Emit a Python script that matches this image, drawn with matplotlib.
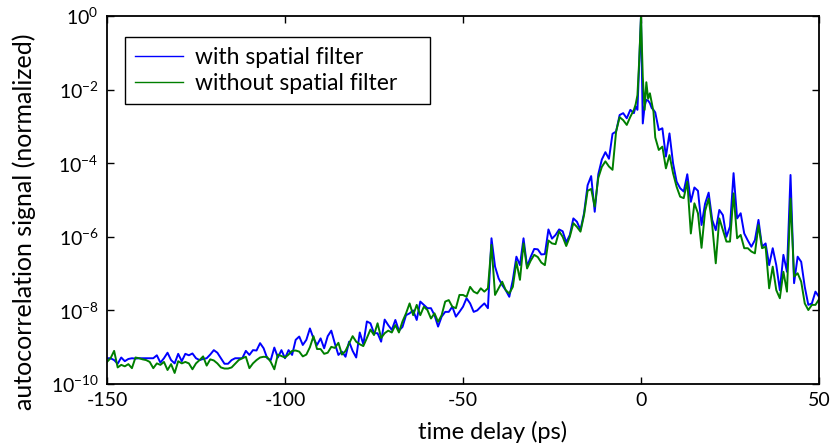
import matplotlib

matplotlib.use("Agg")
import matplotlib.pyplot as plt
import numpy as np

plt.rcParams["font.family"] = ["Lato", "DejaVu Sans"]
plt.rcParams["mathtext.fontset"] = "custom"
plt.rcParams["mathtext.rm"] = "Lato"
plt.rcParams["mathtext.default"] = "regular"
plt.rcParams["axes.unicode_minus"] = False

# time delay grid (ps): 1 ps steps, 0.5 ps around the peak
delay_coarse_left = list(range(-150, -2))
delay_fine = [-2.0, -1.5, -1.0, -0.5, 0.0, 0.5, 1.0, 1.5, 2.0, 2.5, 3.0, 3.5, 4.0]
delay_coarse_right = list(range(5, 51))
delay = np.array(delay_coarse_left + delay_fine + delay_coarse_right, dtype=float)

# log10 of the normalized autocorrelation signal
log_with_filter = [
    -9.30, -9.30, -9.35, -9.45, -9.28, -9.38, -9.32, -9.30, -9.31, -9.30,
    -9.30, -9.30, -9.30, -9.30, -9.22, -9.42, -9.30, -9.15, -9.35, -9.44,
    -9.18, -9.38, -9.18, -9.22, -9.17, -9.30, -9.35, -9.32, -9.30, -9.20,
    -9.08, -9.15, -9.30, -9.45, -9.45, -9.35, -9.30, -9.30, -9.30, -9.10,
    -9.21, -9.08, -9.09, -8.89, -9.03, -9.30, -9.35, -9.01, -9.28, -9.08,
    -9.30, -9.08, -9.21, -8.80, -8.71, -8.94, -8.80, -8.49, -8.76, -8.94,
    -8.76, -9.03, -8.70, -8.55, -8.90, -9.21, -9.12, -9.26, -8.85, -9.10,
    -9.28, -8.60, -8.92, -8.30, -8.35, -8.62, -8.62, -8.85, -8.25, -8.40,
    -8.53, -8.26, -8.55, -8.45, -8.13, -8.08, -8.00, -8.26, -7.76, -7.85,
    -7.94, -7.94, -8.13, -8.44, -8.17, -8.04, -8.04, -7.90, -8.17, -8.04,
    -7.90, -7.67, -7.81, -8.04, -8.00, -7.90, -7.81, -7.94, -6.04, -6.81,
    -7.13, -7.31, -7.45, -7.63, -7.17, -6.54, -6.77, -6.04, -6.81, -6.55,
    -6.33, -6.34, -6.48, -6.47, -5.80, -6.05, -5.95, -5.80, -5.85, -6.15,
    -5.95, -5.50, -5.59, -5.81, -5.36, -4.60, -4.35, -5.32, -4.30, -3.90,
    -3.70, -3.88, -3.20, -3.14, -2.69, -2.64, -2.78, -2.55,
    -2.64, -2.46, -2.55, -1.30, 0.00, -2.92, -2.46, -2.28, -2.30, -2.37, -2.50, -2.55, -2.62,
    -3.10, -3.05, -3.82, -3.19, -4.00, -4.50, -4.68, -4.77, -4.30, -5.05,
    -4.66, -4.75, -5.68, -5.10, -4.80, -5.54, -5.82, -5.27, -5.41, -6.00,
    -5.72, -4.27, -5.50, -5.36, -5.91, -6.10, -6.27, -6.09, -5.54, -6.27,
    -6.18, -6.77, -6.31, -6.77, -7.45, -6.49, -6.95, -4.32, -7.26, -6.54,
    -6.68, -7.36, -7.85, -7.81, -7.49, -7.63,
]

log_without_filter = [
    -9.40, -9.30, -9.10, -9.55, -9.48, -9.52, -9.46, -9.57, -9.28, -9.30,
    -9.33, -9.35, -9.40, -9.57, -9.44, -9.48, -9.40, -9.62, -9.46, -9.70,
    -9.38, -9.44, -9.40, -9.44, -9.60, -9.44, -9.35, -9.25, -9.50, -9.33,
    -9.36, -9.44, -9.55, -9.58, -9.58, -9.55, -9.45, -9.35, -9.30, -9.26,
    -9.57, -9.44, -9.35, -9.28, -9.26, -9.27, -9.40, -9.60, -9.20, -9.24,
    -9.28, -9.20, -9.10, -9.09, -9.12, -9.25, -9.20, -9.00, -8.70, -9.05,
    -9.05, -9.18, -9.15, -8.99, -9.02, -8.88, -9.20, -9.10, -8.90, -8.70,
    -8.85, -8.92, -8.97, -8.75, -8.52, -8.67, -8.35, -8.75, -8.62, -8.55,
    -8.60, -8.40, -8.60, -8.30, -8.08, -7.81, -8.13, -7.85, -8.13, -7.90,
    -7.99, -8.22, -8.08, -8.31, -8.13, -7.76, -7.72, -7.90, -7.94, -7.58,
    -7.58, -7.63, -7.36, -7.49, -7.54, -7.40, -7.49, -7.40, -6.22, -7.58,
    -7.40, -7.22, -7.45, -7.54, -7.36, -6.68, -7.17, -6.18, -6.86, -6.65,
    -6.49, -6.55, -6.70, -6.77, -6.10, -6.18, -6.20, -5.85, -6.00, -6.25,
    -6.00, -5.63, -5.73, -5.86, -5.41, -4.75, -4.70, -5.18, -4.40, -4.10,
    -3.95, -4.09, -4.18, -3.14, -2.75, -2.83, -2.96, -2.74,
    -2.55, -2.40, -2.15, -1.20, 0.00, -1.65, -2.55, -1.80, -2.25, -2.10, -2.35, -2.60, -3.30,
    -3.64, -3.55, -4.14, -3.78, -4.27, -4.64, -4.91, -4.95, -4.50, -5.91,
    -5.09, -5.36, -6.30, -5.30, -4.96, -5.68, -6.72, -5.50, -5.82, -6.13,
    -6.13, -4.82, -6.04, -5.95, -6.31, -6.31, -6.40, -6.45, -5.68, -6.31,
    -6.27, -7.40, -6.81, -7.45, -7.67, -6.95, -7.49, -4.96, -7.08, -6.99,
    -7.22, -7.81, -7.99, -7.85, -7.85, -7.70,
]

signal_with = 10.0 ** np.array(log_with_filter)
signal_without = 10.0 ** np.array(log_without_filter)

x_ticks = [-150, -100, -50, 0, 50]
y_ticks = [1e-10, 1e-8, 1e-6, 1e-4, 1e-2, 1e0]

fig = plt.figure(figsize=(8.34, 4.48), dpi=100, facecolor="white")
ax = fig.add_axes([107 / 834, 1 - 384 / 448, 712 / 834, 368 / 448])

ax.plot(delay, signal_with, color="#0000ff", lw=1.4, label="with spatial filter")
ax.plot(delay, signal_without, color="#007f00", lw=1.4, label="without spatial filter")

ax.set_yscale("log")
ax.set_xlim(-150, 50)
ax.set_ylim(1e-10, 1e0)
ax.set_xticks(x_ticks)
ax.set_yticks(y_ticks)
ax.yaxis.set_minor_locator(matplotlib.ticker.NullLocator())
ax.tick_params(direction="in", top=True, right=True, length=5, width=1, labelsize=14, pad=6)

for spine in ax.spines.values():
    spine.set_linewidth(1.3)

ax.set_xlabel("time delay (ps)", fontsize=17)
ax.set_ylabel("autocorrelation signal (normalized)", fontsize=18)
ax.xaxis.set_label_coords(0.541, -0.100)
ax.yaxis.set_label_coords(-0.100, 0.44)

leg = ax.legend(loc="upper left", bbox_to_anchor=(0.0253, 0.763, 0.428, 0.18), mode="expand",
                borderaxespad=0, fontsize=16.5, fancybox=False, edgecolor="black", framealpha=1,
                handlelength=2.1, handletextpad=0.5, borderpad=0.45, labelspacing=0.2)
leg.get_frame().set_linewidth(1.0)
for handle in leg.get_lines():
    handle.set_linewidth(1.0)

fig.savefig("out.png", dpi=100, facecolor="white")
